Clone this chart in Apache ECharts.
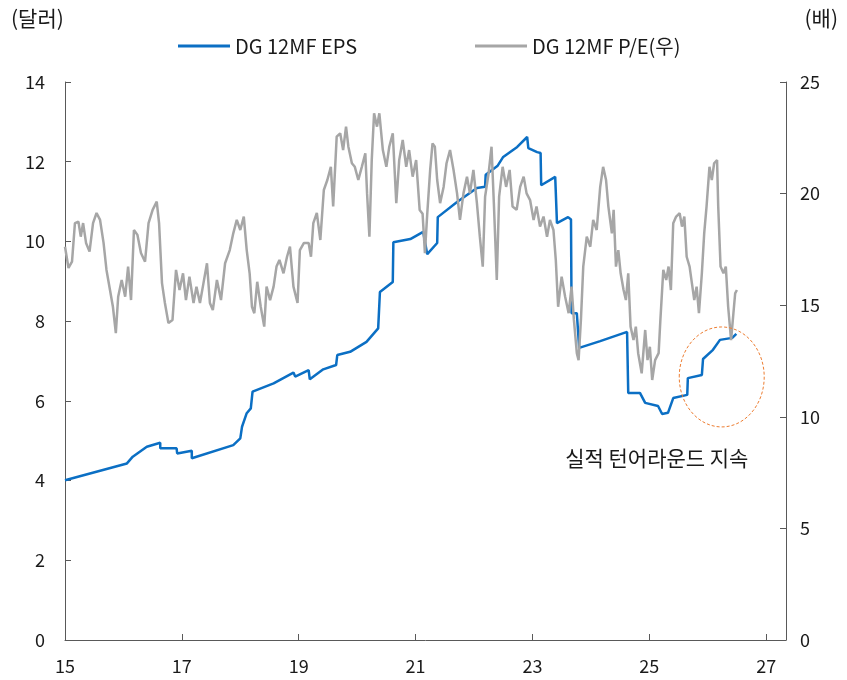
<!DOCTYPE html>
<html>
<head>
<meta charset="utf-8">
<script src="https://cdn.jsdelivr.net/npm/echarts@6/dist/echarts.min.js"></script>
<style>
  html, body { margin: 0; padding: 0; background: #fff; }
  #main { width: 847px; height: 680px; }
</style>
</head>
<body>
<div id="main"></div>
<script>
const FONT = '"Noto Sans CJK KR", "Noto Sans", sans-serif'

// 12개월 선행 EPS (달러), x = 연도(15 = 2015)
const epsYears = [
  15.00, 16.06, 16.16, 16.40, 16.63, 16.63, 16.91, 16.92, 17.17, 17.17,
  17.88, 18.00, 18.03, 18.11, 18.18, 18.21, 18.57, 18.91, 18.94, 19.17,
  19.19, 19.42, 19.64, 19.66, 19.88, 20.16, 20.36, 20.39, 20.39, 20.61,
  20.62, 20.91, 21.13, 21.20, 21.37, 21.38, 21.71, 22.05, 22.19, 22.20,
  22.40, 22.50, 22.74, 22.91, 22.93, 23.08, 23.14, 23.15, 23.39, 23.41,
  23.42, 23.61, 23.66, 23.67, 23.76, 23.80, 24.16, 24.62, 24.64, 24.84,
  24.93, 25.15, 25.22, 25.32, 25.41, 25.65, 25.66, 25.90, 25.92, 26.09,
  26.21, 26.42, 26.49
]
const epsValues = [
  4.01, 4.43, 4.60, 4.85, 4.95, 4.81, 4.81, 4.68, 4.75, 4.56,
  4.89, 5.06, 5.35, 5.69, 5.81, 6.23, 6.44, 6.71, 6.61, 6.77,
  6.54, 6.79, 6.90, 7.15, 7.23, 7.48, 7.82, 7.85, 8.73, 8.98,
  9.98, 10.06, 10.24, 9.68, 9.96, 10.61, 10.99, 11.34, 11.37, 11.67,
  11.89, 12.12, 12.37, 12.62, 12.34, 12.24, 12.22, 11.41, 11.62, 11.62,
  10.46, 10.61, 10.55, 8.20, 8.20, 7.33, 7.50, 7.73, 6.20, 6.20,
  5.95, 5.87, 5.67, 5.70, 6.07, 6.15, 6.57, 6.65, 7.05, 7.28,
  7.53, 7.58, 7.68
]

// 12개월 선행 P/E (배, 우축)
const peYears = [
  15.00, 15.06, 15.12, 15.17, 15.23, 15.27, 15.31, 15.36, 15.42, 15.48,
  15.54, 15.60, 15.66, 15.71, 15.77, 15.82, 15.87, 15.91, 15.97, 16.03,
  16.08, 16.13, 16.18, 16.24, 16.30, 16.37, 16.43, 16.50, 16.57, 16.61,
  16.66, 16.71, 16.77, 16.84, 16.90, 16.96, 17.02, 17.07, 17.13, 17.20,
  17.25, 17.31, 17.37, 17.43, 17.48, 17.53, 17.60, 17.67, 17.74, 17.82,
  17.88, 17.94, 18.00, 18.06, 18.11, 18.16, 18.20, 18.24, 18.29, 18.35,
  18.41, 18.45, 18.51, 18.57, 18.62, 18.67, 18.74, 18.80, 18.85, 18.91,
  18.98, 19.02, 19.09, 19.17, 19.21, 19.25, 19.31, 19.37, 19.43, 19.49,
  19.55, 19.59, 19.65, 19.71, 19.76, 19.81, 19.85, 19.91, 19.96, 20.02,
  20.08, 20.14, 20.17, 20.21, 20.25, 20.29, 20.34, 20.38, 20.44, 20.50,
  20.55, 20.61, 20.67, 20.72, 20.78, 20.84, 20.89, 20.95, 21.01, 21.07,
  21.12, 21.16, 21.20, 21.25, 21.29, 21.33, 21.37, 21.42, 21.48, 21.53,
  21.59, 21.65, 21.71, 21.76, 21.82, 21.88, 21.93, 21.99, 22.05, 22.10,
  22.15, 22.19, 22.25, 22.30, 22.34, 22.39, 22.43, 22.49, 22.55, 22.61,
  22.66, 22.73, 22.79, 22.85, 22.90, 22.96, 23.02, 23.07, 23.13, 23.19,
  23.25, 23.30, 23.36, 23.40, 23.44, 23.50, 23.56, 23.62, 23.67, 23.71,
  23.76, 23.79, 23.83, 23.87, 23.93, 23.99, 24.04, 24.10, 24.16, 24.21,
  24.26, 24.30, 24.36, 24.39, 24.43, 24.47, 24.51, 24.56, 24.60, 24.64,
  24.68, 24.73, 24.77, 24.81, 24.87, 24.93, 24.97, 25.01, 25.05, 25.10,
  25.16, 25.19, 25.24, 25.29, 25.33, 25.37, 25.41, 25.46, 25.52, 25.56,
  25.60, 25.64, 25.69, 25.73, 25.77, 25.81, 25.85, 25.90, 25.94, 25.98,
  26.03, 26.07, 26.11, 26.16, 26.18, 26.22, 26.27, 26.31, 26.35, 26.40,
  26.44, 26.47, 26.50
]
const peValues = [
  17.62, 16.67, 16.95, 18.68, 18.74, 18.07, 18.68, 17.79, 17.40, 18.68,
  19.13, 18.82, 17.79, 16.58, 15.68, 14.93, 13.75, 15.38, 16.13, 15.38,
  16.73, 15.23, 18.37, 18.15, 17.34, 16.95, 18.68, 19.27, 19.64, 18.68,
  15.99, 15.10, 14.20, 14.34, 16.58, 15.68, 16.43, 15.23, 16.28, 15.10,
  15.83, 15.10, 15.99, 16.88, 15.10, 14.78, 16.13, 15.23, 16.88, 17.47,
  18.22, 18.82, 18.37, 18.97, 17.47, 16.43, 14.93, 14.64, 16.05, 14.93,
  14.04, 15.83, 15.23, 15.83, 16.73, 17.03, 16.43, 17.17, 17.62, 15.83,
  15.10, 17.47, 17.79, 17.79, 17.17, 18.68, 19.13, 17.92, 20.16, 20.61,
  21.20, 19.42, 22.55, 22.70, 21.95, 23.00, 22.10, 21.36, 21.20, 20.61,
  21.20, 21.80, 20.01, 18.07, 21.50, 23.60, 23.00, 23.60, 21.95, 21.20,
  22.10, 22.70, 19.57, 21.50, 22.40, 21.20, 21.95, 20.76, 21.50, 19.27,
  19.10, 17.33, 19.10, 21.06, 22.25, 22.10, 20.61, 19.57, 20.30, 21.36,
  21.95, 21.06, 20.01, 18.82, 20.01, 20.76, 20.01, 21.06, 19.57, 18.07,
  16.73, 19.86, 20.91, 22.10, 19.57, 16.13, 19.86, 21.20, 20.30, 21.06,
  19.42, 19.27, 20.30, 20.76, 20.01, 19.71, 18.82, 19.42, 18.52, 18.97,
  18.07, 18.82, 18.37, 17.03, 14.93, 16.28, 15.38, 14.64, 15.83, 14.34,
  12.85, 12.54, 14.34, 16.73, 18.07, 17.62, 18.82, 18.37, 20.30, 21.20,
  20.61, 19.42, 18.22, 19.27, 16.73, 17.47, 16.43, 15.68, 15.23, 16.43,
  14.04, 13.44, 14.04, 12.85, 11.95, 13.89, 12.54, 13.14, 11.65, 12.54,
  12.85, 14.34, 16.58, 16.13, 16.73, 15.68, 18.67, 18.97, 19.12, 18.52,
  18.97, 17.17, 16.73, 15.98, 15.23, 15.83, 14.64, 16.43, 18.22, 19.42,
  21.20, 20.61, 21.36, 21.50, 19.42, 16.73, 16.43, 16.73, 14.93, 13.44,
  14.64, 15.53, 15.68
]

const xTicks = [15, 17, 19, 21, 23, 25, 27]

const axisLineStyle = { color: '#595959', width: 1 }
const labelStyle = { color: '#1a1a1a', fontSize: 18, fontFamily: FONT }
const legendText = { color: '#1a1a1a', fontSize: 20, fontFamily: FONT }

const chart = echarts.init(document.getElementById('main'))

chart.setOption({
  backgroundColor: '#fff',
  animation: false,
  legend: [
    {
      left: 173, top: 31, itemWidth: 52, itemHeight: 3, icon: 'rect',
      textStyle: legendText, data: ['DG 12MF EPS'],
    },
    {
      left: 470, top: 31, itemWidth: 52, itemHeight: 3, icon: 'rect',
      textStyle: legendText, data: ['DG 12MF P/E(우)'],
    },
  ],
  grid: { left: 65, right: 61, top: 82, bottom: 40, containLabel: false, outerBoundsMode: 'none' },
  xAxis: {
    type: 'value',
    min: 15,
    max: 27.34,
    interval: 2,
    axisLine: { lineStyle: axisLineStyle },
    axisTick: { inside: true, length: 6, lineStyle: axisLineStyle },
    axisLabel: {
      ...labelStyle,
      margin: 17,
      showMaxLabel: false,
      formatter: v => (xTicks.includes(v) ? String(v) : ''),
    },
    splitLine: { show: false },
  },
  yAxis: [
    {
      type: 'value',
      min: 0,
      max: 14,
      interval: 2,
      axisLine: { show: true, lineStyle: axisLineStyle },
      axisTick: { show: true, inside: true, length: 6, lineStyle: axisLineStyle },
      axisLabel: { ...labelStyle, margin: 20 },
      splitLine: { show: false },
    },
    {
      type: 'value',
      min: 0,
      max: 25,
      interval: 5,
      position: 'right',
      axisLine: { show: true, lineStyle: axisLineStyle },
      axisTick: { show: true, inside: true, length: 6, lineStyle: axisLineStyle },
      axisLabel: { ...labelStyle, margin: 14 },
      splitLine: { show: false },
    },
  ],
  series: [
    {
      name: 'DG 12MF EPS',
      type: 'line',
      yAxisIndex: 0,
      data: epsYears.map((x, i) => [x, epsValues[i]]),
      showSymbol: false,
      lineStyle: { color: '#0B6FC4', width: 2.5 },
      itemStyle: { color: '#0B6FC4' },
    },
    {
      name: 'DG 12MF P/E(우)',
      type: 'line',
      yAxisIndex: 1,
      data: peYears.map((x, i) => [x, peValues[i]]),
      showSymbol: false,
      lineStyle: { color: '#A6A6A6', width: 2.5 },
      itemStyle: { color: '#A6A6A6' },
    },
  ],
})

// 주석: 타원과 텍스트 (데이터 좌표 기준)
const toPx = p => chart.convertToPixel({ xAxisIndex: 0, yAxisIndex: 0 }, p)
const c = toPx([26.24, 6.6])
const e = toPx([26.24 + 0.727, 6.6 + 1.254])
const t = toPx([23.56, 4.57])

chart.setOption({
  graphic: [
    {
      type: 'ellipse',
      shape: { cx: c[0], cy: c[1], rx: e[0] - c[0], ry: c[1] - e[1] },
      style: { fill: 'none', stroke: '#ED7D31', lineWidth: 1, lineDash: [3, 2] },
      z: 10,
    },
    {
      type: 'text',
      x: t[0],
      y: t[1],
      style: { text: '실적 턴어라운드 지속', fill: '#1a1a1a', font: '21px ' + FONT, textVerticalAlign: 'middle' },
    },
    {
      type: 'text',
      x: 11,
      y: 18,
      style: { text: '(달러)', fill: '#1a1a1a', font: '21px ' + FONT, textVerticalAlign: 'middle' },
    },
    {
      type: 'text',
      x: 838,
      y: 18,
      style: { text: '(배)', fill: '#1a1a1a', font: '21px ' + FONT, textAlign: 'right', textVerticalAlign: 'middle' },
    },
  ],
})
</script>
</body>
</html>
